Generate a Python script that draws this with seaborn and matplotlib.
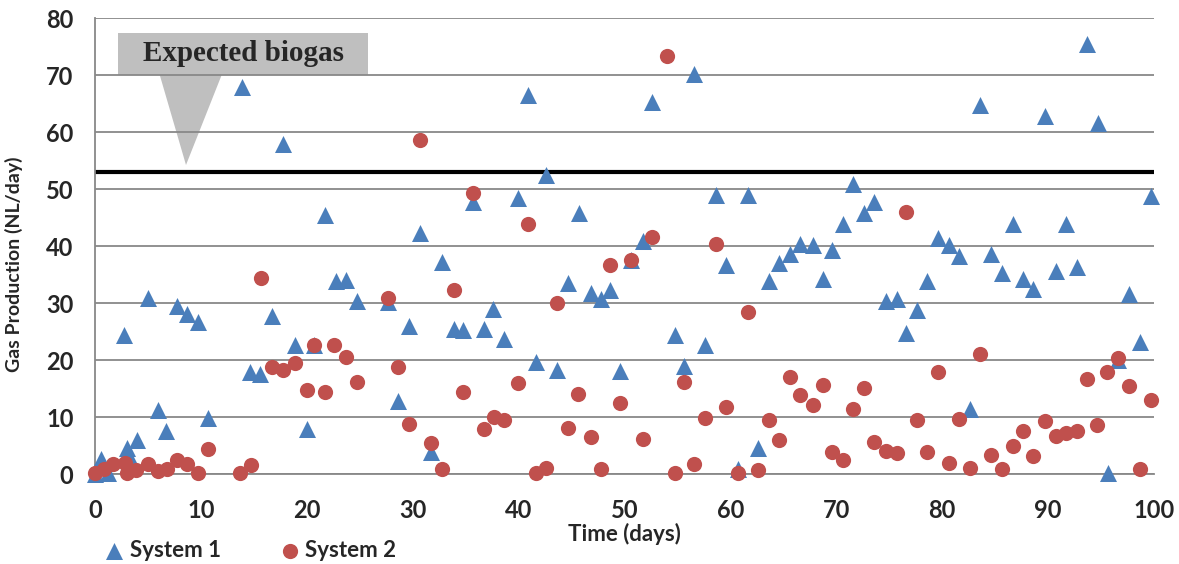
import numpy as np
import pandas as pd
import seaborn as sns
import matplotlib.pyplot as plt
from matplotlib.patches import Rectangle, Polygon

## Data
sys1_days = [0.0, 0.6, 1.2, 2.7, 3.0, 3.4, 4.0, 5.0, 5.9, 6.7, 7.7, 8.7, 9.7, 10.7,
             13.9, 14.6, 15.6, 16.7, 17.7, 18.9, 20.0, 20.7, 21.7, 22.7, 23.7, 24.7,
             27.7, 28.6, 29.6, 30.7, 31.7, 32.8, 33.9, 34.7, 35.7, 36.7, 37.6, 38.6,
             39.9, 40.9, 41.6, 42.6, 43.6, 44.7, 45.7, 46.8, 47.8, 48.6, 49.6, 50.6,
             51.7, 52.6, 54.8, 55.6, 56.6, 57.6, 58.6, 59.6, 60.7, 61.7, 62.6, 63.6,
             64.6, 65.6, 66.6, 67.8, 68.7, 69.6, 70.6, 71.6, 72.6, 73.6, 74.7, 75.7,
             76.6, 77.6, 78.6, 79.6, 80.6, 81.6, 82.6, 83.6, 84.6, 85.6, 86.7, 87.6,
             88.6, 89.7, 90.7, 91.7, 92.7, 93.7, 94.7, 95.7, 96.6, 97.6, 98.7, 99.7]
sys1_gas = [0.0, 2.8, 0.3, 24.5, 4.7, 2.5, 6.0, 31.0, 11.4, 7.7, 29.5, 28.1, 26.8, 9.9,
            67.9, 17.9, 17.6, 27.8, 57.9, 22.8, 8.0, 22.8, 45.6, 33.9, 34.2, 30.4,
            30.2, 12.9, 26.0, 42.3, 3.9, 37.3, 25.6, 25.4, 47.8, 25.6, 29.1, 23.8,
            48.5, 66.5, 19.7, 52.6, 18.3, 33.6, 45.8, 31.9, 30.8, 32.3, 18.2, 37.7,
            40.9, 65.3, 24.4, 19.0, 70.2, 22.8, 49.1, 36.8, 0.9, 49.1, 4.7, 33.9,
            37.1, 38.6, 40.5, 40.2, 34.3, 39.4, 43.9, 50.9, 45.9, 47.8, 30.5, 30.8,
            24.9, 28.8, 33.9, 41.5, 40.2, 38.3, 11.5, 64.9, 38.7, 35.4, 44.0, 34.3,
            32.5, 62.9, 35.7, 44.0, 36.4, 75.6, 61.6, 0.3, 20.1, 31.6, 23.2, 48.8]

sys2_days = [0.0, 0.8, 1.7, 2.8, 3.0, 3.9, 5.0, 5.9, 6.8, 7.7, 8.7, 9.7, 10.7,
             13.7, 14.7, 15.7, 16.7, 17.7, 18.9, 20.0, 20.7, 21.7, 22.6, 23.7, 24.7,
             27.7, 28.6, 29.6, 30.7, 31.7, 32.8, 33.9, 34.7, 35.7, 36.7, 37.7, 38.6,
             39.9, 40.9, 41.6, 42.6, 43.6, 44.7, 45.6, 46.8, 47.8, 48.6, 49.6, 50.6,
             51.7, 52.6, 54.0, 54.8, 55.6, 56.6, 57.6, 58.6, 59.6, 60.7, 61.7, 62.6,
             63.6, 64.6, 65.6, 66.6, 67.8, 68.7, 69.6, 70.6, 71.6, 72.6, 73.6, 74.7,
             75.7, 76.6, 77.6, 78.6, 79.6, 80.6, 81.6, 82.6, 83.6, 84.6, 85.6, 86.7,
             87.6, 88.6, 89.7, 90.7, 91.7, 92.7, 93.7, 94.6, 95.6, 96.6, 97.6, 98.7, 99.7]
sys2_gas = [0.3, 1.0, 1.8, 2.0, 0.3, 0.8, 1.9, 0.7, 0.9, 2.5, 1.9, 0.2, 4.5,
            0.2, 1.7, 34.5, 18.8, 18.3, 19.5, 14.8, 22.8, 14.4, 22.8, 20.7, 16.3,
            31.0, 18.8, 8.8, 58.7, 5.6, 1.0, 32.3, 14.4, 49.4, 7.9, 10.1, 9.5,
            16.0, 44.0, 0.3, 1.2, 30.0, 8.2, 14.2, 6.6, 0.9, 36.7, 12.5, 37.6,
            6.3, 41.7, 73.4, 0.2, 16.3, 1.9, 9.9, 40.5, 11.9, 0.3, 28.5, 0.8,
            9.5, 6.0, 17.1, 13.9, 12.2, 15.7, 4.0, 2.5, 11.5, 15.1, 5.7, 4.1,
            3.7, 46.0, 9.5, 4.0, 18.0, 2.0, 9.8, 1.1, 21.2, 3.4, 0.9, 5.0,
            7.6, 3.2, 9.4, 6.8, 7.2, 7.6, 16.7, 8.6, 17.9, 20.5, 15.5, 1.0, 13.0]

expected_biogas = 53

sys1 = pd.DataFrame({'day': sys1_days, 'gas': sys1_gas})
sys2 = pd.DataFrame({'day': sys2_days, 'gas': sys2_gas})

sns.set_style('white')
plt.rcParams['font.family'] = ['Lato', 'DejaVu Sans']
plt.rcParams['font.weight'] = 'bold'
grey = '#888888'

fig = plt.figure(figsize=(11.79, 5.64), dpi=100)
ax = fig.add_axes([0.0807, 0.1587, 0.8981, 0.8085])

## Scatter series
sns.scatterplot(x='day', y='gas', data=sys1, marker='^', color='#4a7ebb', s=150,
                linewidth=0, label='System 1', clip_on=False, zorder=3, ax=ax)
sns.scatterplot(x='day', y='gas', data=sys2, marker='o', color='#c0504d', s=120,
                linewidth=0, label='System 2', clip_on=False, zorder=4, ax=ax)

## Expected biogas line + callout
ax.axhline(expected_biogas, color='black', lw=3, zorder=2)
ax.add_patch(Rectangle((2.16, 70.1), 23.6, 7.4, color='#bfbfbf', lw=0, zorder=0.3))
ax.add_patch(Polygon([[6.1, 70.1], [11.95, 70.1], [8.58, 54.3]], closed=True,
                     color='#bfbfbf', lw=0, zorder=0.3))
ax.text(14.0, 73.8, 'Expected biogas', family='Liberation Serif', weight='bold',
        fontsize=21, ha='center', va='center', zorder=1)

## Axes
ax.set_xlim(0, 100)
ax.set_ylim(0, 80)
ax.set_xticks(np.arange(0, 101, 10))
ax.set_yticks(np.arange(0, 81, 10))
ax.set_axisbelow(True)
ax.yaxis.grid(True, color=grey, lw=1.3)
ax.xaxis.grid(False)
sns.despine(ax=ax, top=True, right=True)
for side in ['left', 'bottom']:
    ax.spines[side].set_color(grey)
    ax.spines[side].set_linewidth(1.3)
ax.tick_params(axis='x', direction='out', length=6, width=1.3, color=grey,
               labelsize=17, pad=12)
ax.tick_params(axis='y', direction='out', length=6.5, width=1.3, color=grey,
               labelsize=17, pad=9)

ax.set_xlabel('Time (days)', fontsize=16, fontweight='bold', labelpad=0)
ax.set_ylabel('Gas Production (NL/day)', fontsize=14, fontweight='bold')
ax.yaxis.set_label_coords(-0.068, 0.46)

## Legend at the bottom
ax.get_legend().remove()
handles, labels = ax.get_legend_handles_labels()
fig.legend(handles, labels, loc='center left', bbox_to_anchor=(0.078, 0.024),
           ncol=2, frameon=False, fontsize=16, borderpad=0, handlelength=1,
           handletextpad=0.2, columnspacing=2.6)

plt.savefig('out.png', dpi=100)
